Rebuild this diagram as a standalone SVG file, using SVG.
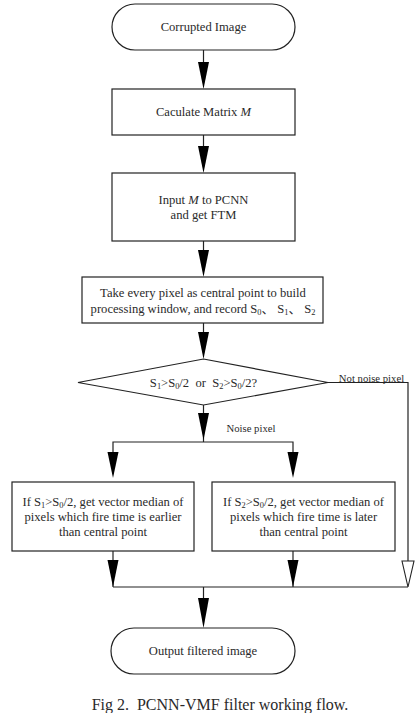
<svg xmlns="http://www.w3.org/2000/svg" width="415" height="713" viewBox="0 0 415 713">
<style>
.s{fill:#fff;stroke:#222;stroke-width:1.2}
.t{font-family:"Liberation Serif","Times New Roman",Tinos,"DejaVu Serif",serif;font-size:12.6px;fill:#2a2a2a;text-anchor:middle}
.lb{font-size:10.7px}
.l{fill:none;stroke:#222;stroke-width:1.2}
.h{fill:#000}
.sub{font-size:8.4px}
.cjk{font-family:"Liberation Serif","Noto Sans CJK SC",serif}
</style>
<g id="connectors">
<line class="l" x1="203.5" y1="50" x2="203.5" y2="70"/>
<polygon class="h" points="198,62 209,62 203.5,89"/>
<line class="l" x1="203.5" y1="135" x2="203.5" y2="150"/>
<polygon class="h" points="198,146 209,146 203.5,173"/>
<line class="l" x1="203.5" y1="241" x2="203.5" y2="255"/>
<polygon class="h" points="198,250 209,250 203.5,277"/>
<line class="l" x1="203.5" y1="323" x2="203.5" y2="336"/>
<polygon class="h" points="198,332 209,332 203.5,359"/>
<line class="l" x1="203.5" y1="405" x2="203.5" y2="442"/>
<polygon class="h" points="198,413 209,413 203.5,440"/>
<polyline class="l" points="113,460 113,442 293,442 293,460"/>
<polygon class="h" points="107.5,452 118.5,452 113,478"/>
<polygon class="h" points="287.5,452 298.5,452 293,478"/>
<line class="l" x1="113" y1="551" x2="113" y2="587"/>
<polygon class="h" points="107.5,560 118.5,560 113,587"/>
<line class="l" x1="293" y1="551" x2="293" y2="587"/>
<polygon class="h" points="287.5,560 298.5,560 293,587"/>
<polyline class="l" points="328,382.5 408,382.5 408,561"/>
<polygon points="402,561 414,561 408,587" fill="#fff" stroke="#222" stroke-width="1.1"/>
<line class="l" x1="113" y1="587" x2="408" y2="587"/>
<line class="l" x1="203.5" y1="587" x2="203.5" y2="605"/>
<polygon class="h" points="198,598 209,598 203.5,628"/>
<text class="t lb" x="251" y="432">Noise pixel</text>
<text class="t lb" x="371.5" y="382">Not noise pixel</text>
</g>
<g id="n1"><rect class="s" x="112" y="4" width="183" height="46" rx="23"/><text class="t" x="203.5" y="31">Corrupted Image</text></g>
<g id="n2"><rect class="s" x="112" y="89" width="183" height="46"/><text class="t" x="203.5" y="116">Caculate Matrix <tspan font-style="italic">M</tspan></text></g>
<g id="n3"><rect class="s" x="112" y="173" width="183" height="68"/><text class="t" x="203.5" y="204">Input <tspan font-style="italic">M</tspan> to PCNN</text><text class="t" x="203.5" y="219">and get FTM</text></g>
<g id="n4"><rect class="s" x="82" y="277" width="241" height="46"/><text class="t" x="203" y="297">Take every pixel as central point to build</text><text class="t" x="203" y="313">processing window, and record S<tspan class="sub" dy="2">0</tspan><tspan class="cjk" dy="-2">、 S</tspan><tspan class="sub" dy="2">1</tspan><tspan class="cjk" dy="-2">、 S</tspan><tspan class="sub" dy="2">2</tspan></text></g>
<g id="n5"><polygon class="s" points="203.5,359 328,382.5 203.5,405 78,382.5"/><text class="t" x="203.5" y="387" xml:space="preserve">S<tspan class="sub" dy="2">1</tspan><tspan dy="-2">&gt;S</tspan><tspan class="sub" dy="2">0</tspan><tspan dy="-2">/2  or  S</tspan><tspan class="sub" dy="2">2</tspan><tspan dy="-2">&gt;S</tspan><tspan class="sub" dy="2">0</tspan><tspan dy="-2">/2?</tspan></text></g>
<g id="n6"><rect class="s" x="12" y="482" width="182" height="69"/><text class="t" x="103" y="506">If S<tspan class="sub" dy="2">1</tspan><tspan dy="-2">&gt;S</tspan><tspan class="sub" dy="2">0</tspan><tspan dy="-2">/2, get vector median of</tspan></text><text class="t" x="103" y="521">pixels which fire time is earlier</text><text class="t" x="103" y="536">than central point</text></g>
<g id="n7"><rect class="s" x="212" y="482" width="183" height="69"/><text class="t" x="303.5" y="506">If S<tspan class="sub" dy="2">2</tspan><tspan dy="-2">&gt;S</tspan><tspan class="sub" dy="2">0</tspan><tspan dy="-2">/2, get vector median of</tspan></text><text class="t" x="303.5" y="521">pixels which fire time is later</text><text class="t" x="303.5" y="536">than central point</text></g>
<g id="n8"><rect class="s" x="111" y="628" width="184" height="46" rx="23"/><text class="t" x="203" y="655">Output filtered image</text></g>
<text class="t" x="220" y="710" style="font-size:16px" xml:space="preserve">Fig 2.  PCNN-VMF filter working flow.</text>
</svg>
